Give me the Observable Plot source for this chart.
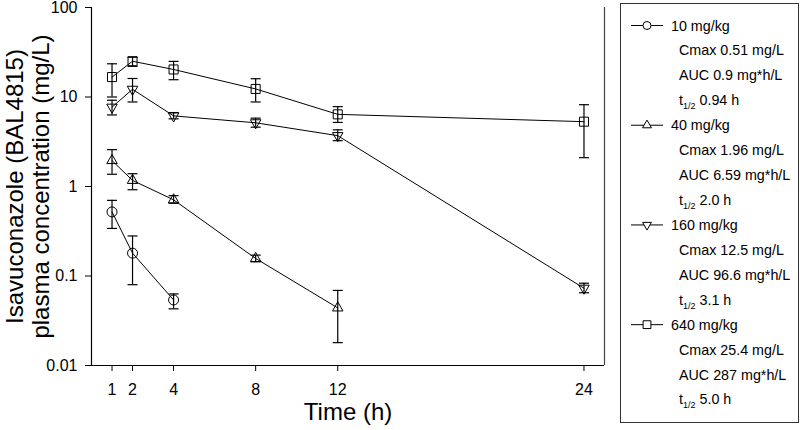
<!DOCTYPE html>
<html><head><meta charset="utf-8">
<script src="https://cdn.jsdelivr.net/npm/d3@7"></script>
<script src="https://cdn.jsdelivr.net/npm/@observablehq/plot@0.6"></script>
<style>
body{margin:0;background:#fff;}
#wrap{position:relative;width:800px;height:430px;font-family:"Liberation Sans",Arial,sans-serif;}
</style></head><body><div id="wrap"></div>
<script>
// ---- data ----
const doses = ["10 mg/kg", "40 mg/kg", "160 mg/kg", "640 mg/kg"];
const cmaxText = ["Cmax 0.51 mg/L", "Cmax 1.96 mg/L", "Cmax 12.5 mg/L", "Cmax 25.4 mg/L"];
const aucText = ["AUC 0.9 mg*h/L", "AUC 6.59 mg*h/L", "AUC 96.6 mg*h/L", "AUC 287 mg*h/L"];
const halfText = ["0.94 h", "2.0 h", "3.1 h", "5.0 h"];

const time10 = [1, 2, 4];
const conc10 = [0.52, 0.18, 0.054];
const lo10 = [0.34, 0.080, 0.043];
const hi10 = [0.70, 0.28, 0.063];

const time40 = [1, 2, 4, 8, 12];
const conc40 = [1.95, 1.17, 0.71, 0.157, 0.044];
const lo40 = [1.37, 0.92, 0.65, 0.144, 0.018];
const hi40 = [2.58, 1.39, 0.79, 0.171, 0.069];

const time160 = [1, 2, 4, 8, 12, 24];
const conc160 = [7.7, 12.2, 6.15, 5.15, 3.7, 0.073];
const lo160 = [6.3, 8.8, 5.7, 4.6, 3.25, 0.065];
const hi160 = [9.2, 16.1, 6.7, 5.8, 4.3, 0.083];

const time640 = [1, 2, 4, 8, 12, 24];
const conc640 = [16.7, 25.1, 20.3, 12.3, 6.4, 5.3];
const lo640 = [10.0, 22.0, 15.6, 8.8, 5.2, 2.1];
const hi640 = [23.5, 27.8, 25.0, 16.0, 7.8, 8.2];

const xTicks = [1, 2, 4, 8, 12, 24];
const yTicks = [0.01, 0.1, 1, 10, 100];
const xTitle = "Time (h)";
const yTitle = "Isavuconazole (BAL4815)\nplasma concentration (mg/L)";

// ---- build table ----
const series = [
  {dose: doses[0], symbol: "circle", r: 5, rotate: 0, time: time10, conc: conc10, lo: lo10, hi: hi10},
  {dose: doses[1], symbol: "triangle", r: 3.9, rotate: 0, time: time40, conc: conc40, lo: lo40, hi: hi40},
  {dose: doses[2], symbol: "triangle", r: 3.9, rotate: 180, time: time160, conc: conc160, lo: lo160, hi: hi160},
  {dose: doses[3], symbol: "square", r: 5.1, rotate: 0, time: time640, conc: conc640, lo: lo640, hi: hi640}
];
const rows = series.flatMap(s => s.time.map((t, i) => ({dose: s.dose, t, c: s.conc[i], lo: s.lo[i], hi: s.hi[i]})));

const cap = {draw(ctx) { ctx.moveTo(-5, 0); ctx.lineTo(5, 0); }};
const font = '"Liberation Sans", Arial, sans-serif';

const chart = Plot.plot({
  width: 800,
  height: 430,
  marginLeft: 91,
  marginRight: 196,
  marginTop: 7,
  marginBottom: 65,
  style: {fontFamily: font, fontSize: "16px", color: "#000", background: "#fff"},
  x: {domain: [0, 25]},
  y: {type: "log", domain: [0.01, 100]},
  marks: [
    Plot.ruleX([0], {stroke: "#000", strokeWidth: 1.2}),
    Plot.ruleX([25], {stroke: "#444", strokeWidth: 1.2}),
    Plot.ruleY([0.01], {stroke: "#000", strokeWidth: 1.2}),
    Plot.line(rows, {x: "t", y: "c", z: "dose", stroke: "#000", strokeWidth: 1}),
    Plot.ruleX(rows, {x: "t", y1: "lo", y2: "hi", stroke: "#000", strokeWidth: 1.2}),
    Plot.dot(rows, {x: "t", y: "lo", symbol: cap, r: 5, stroke: "#000", fill: "none", strokeWidth: 1.2}),
    Plot.dot(rows, {x: "t", y: "hi", symbol: cap, r: 5, stroke: "#000", fill: "none", strokeWidth: 1.2}),
    ...series.map(s => Plot.dot(rows.filter(d => d.dose === s.dose), {
      x: "t", y: "c", symbol: s.symbol, r: s.r, rotate: s.rotate, stroke: "#000", fill: "none", strokeWidth: 1
    })),
    Plot.axisY({ticks: yTicks, tickFormat: d => String(d), tickSize: 6, tickPadding: 8, fontSize: 16, label: null}),
    Plot.axisX({ticks: xTicks, tickSize: 6, tickPadding: 12, fontSize: 16, label: null}),
    Plot.text([xTitle], {text: d => d, frameAnchor: "bottom", lineAnchor: "middle", textAnchor: "middle", dy: 47, fontSize: 24}),
    Plot.text([yTitle], {text: d => d, frameAnchor: "left", textAnchor: "middle", lineAnchor: "middle", rotate: -90, dx: -64, fontSize: 24, lineHeight: 1.1})
  ]
});
document.getElementById("wrap").appendChild(chart);

// ---- legend (overlay) ----
const leg = d3.select("#wrap").append("svg")
  .attr("width", 800).attr("height", 430)
  .style("position", "absolute").style("left", "0px").style("top", "0px")
  .style("font-family", font).style("font-size", "14.3px");
leg.append("rect").attr("x", 620.5).attr("y", 3.5).attr("width", 178).attr("height", 419)
  .attr("fill", "none").attr("stroke", "#333").attr("stroke-width", 1);

const rowY = i => 25.5 + i * 24.93;
const symMap = {circle: d3.symbolCircle, triangle: d3.symbolTriangle, square: d3.symbolSquare};
series.forEach((s, k) => {
  const y0 = rowY(k * 4);
  leg.append("line").attr("x1", 631).attr("x2", 663).attr("y1", y0).attr("y2", y0).attr("stroke", "#000");
  const legR = s.symbol === "triangle" ? 3.3 : (s.symbol === "square" ? 4.4 : 4);
  leg.append("path")
    .attr("d", d3.symbol(symMap[s.symbol], legR * legR * Math.PI)())
    .attr("transform", `translate(647,${y0}) rotate(${s.rotate})`)
    .attr("fill", "#fff").attr("stroke", "#000");
  leg.append("text").attr("x", 671).attr("y", y0).attr("dy", "0.35em").text(s.dose);
  leg.append("text").attr("x", 679).attr("y", rowY(k * 4 + 1)).attr("dy", "0.35em").text(cmaxText[k]);
  leg.append("text").attr("x", 679).attr("y", rowY(k * 4 + 2)).attr("dy", "0.35em").text(aucText[k]);
  const t = leg.append("text").attr("x", 679).attr("y", rowY(k * 4 + 3)).attr("dy", "0.35em");
  t.append("tspan").text("t");
  t.append("tspan").attr("font-size", "9px").attr("dy", "4").text("1/2");
  t.append("tspan").attr("dy", "-4").text(" " + halfText[k]);
});
</script>
</body></html>
